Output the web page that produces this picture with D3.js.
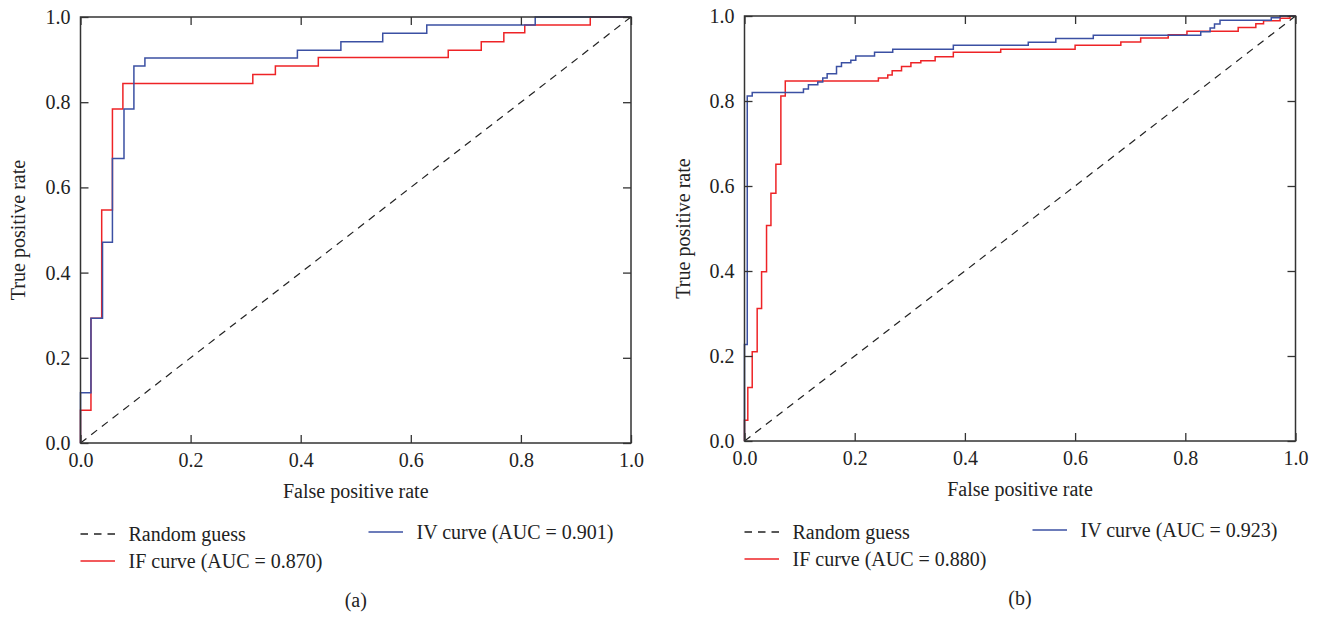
<!DOCTYPE html>
<html>
<head>
<meta charset="utf-8">
<script src="https://cdn.jsdelivr.net/npm/d3@7"></script>
<style>
  body { margin: 0; background: #fff; }
  text { font-family: "Liberation Serif", "Times New Roman", serif; fill: #222; }
</style>
</head>
<body>
<script>
// step points (fpr, tpr)
var ifFprA = [0, 0, 0.019, 0.0385, 0.058, 0.077, 0.313, 0.354, 0.432, 0.668, 0.728, 0.769, 0.807, 0.926, 1];
var ifTprA = [0, 0.077, 0.293, 0.547, 0.784, 0.844, 0.865, 0.885, 0.905, 0.922, 0.942, 0.963, 0.981, 1, 1];
var ivFprA = [0, 0, 0.019, 0.04, 0.058, 0.079, 0.097, 0.117, 0.394, 0.473, 0.549, 0.629, 0.826, 1];
var ivTprA = [0, 0.118, 0.293, 0.471, 0.668, 0.784, 0.885, 0.904, 0.922, 0.942, 0.962, 0.981, 1, 1];

var ifFprB = [0, 0, 0.006, 0.014, 0.023, 0.031, 0.040, 0.048, 0.057, 0.066, 0.074, 0.243, 0.260, 0.268, 0.285,
  0.302, 0.320, 0.346, 0.379, 0.465, 0.600, 0.683, 0.719, 0.769, 0.803, 0.896, 0.928, 0.942, 0.972, 0.99, 1];
var ifTprB = [0, 0.049, 0.126, 0.210, 0.312, 0.398, 0.507, 0.583, 0.651, 0.812, 0.847, 0.854, 0.861, 0.871, 0.881,
  0.890, 0.895, 0.904, 0.915, 0.922, 0.931, 0.939, 0.948, 0.956, 0.964, 0.973, 0.982, 0.989, 0.995, 1, 1];
var ivFprB = [0, 0, 0.005, 0.014, 0.107, 0.116, 0.133, 0.142, 0.150, 0.167, 0.176, 0.193, 0.202, 0.236, 0.269,
  0.379, 0.515, 0.565, 0.633, 0.828, 0.845, 0.853, 0.863, 0.956, 0.972, 1];
var ivTprB = [0, 0.227, 0.812, 0.820, 0.828, 0.838, 0.845, 0.854, 0.864, 0.881, 0.890, 0.896, 0.906, 0.915, 0.922,
  0.931, 0.938, 0.947, 0.955, 0.963, 0.972, 0.981, 0.990, 0.996, 1, 1];

var ticks = [0, 0.2, 0.4, 0.6, 0.8, 1.0];
var xTitle = "False positive rate";
var yTitle = "True positive rate";
var randomLabel = "Random guess";
var ifLabels = ["IF curve (AUC = 0.870)", "IF curve (AUC = 0.880)"];
var ivLabels = ["IV curve (AUC = 0.901)", "IV curve (AUC = 0.923)"];
var panelLabels = ["(a)", "(b)"];

var red = "#ee2326", blue = "#3b50a3", frameColor = "#333";

var svg = d3.select("body").append("svg")
  .attr("width", 1317)
  .attr("height", 618);

var panels = [
  {left: 80.5, top: 17, width: 550.5, height: 426, ifF: ifFprA, ifT: ifTprA, ivF: ivFprA, ivT: ivTprA, yTitleX: 18},
  {left: 744.5, top: 16, width: 551, height: 425, ifF: ifFprB, ifT: ifTprB, ivF: ivFprB, ivT: ivTprB, yTitleX: 683}
];

function zip(xs, ys) {
  return xs.map(function(d, i) { return [d, ys[i]]; });
}

panels.forEach(function(p, k) {
  var g = svg.append("g")
    .attr("transform", "translate(" + p.left + "," + p.top + ")");

  var x = d3.scaleLinear().domain([0, 1]).range([0, p.width]);
  var y = d3.scaleLinear().domain([0, 1]).range([p.height, 0]);

  var line = d3.line()
    .x(function(d) { return x(d[0]); })
    .y(function(d) { return y(d[1]); })
    .curve(d3.curveStepAfter);

  // random guess diagonal
  g.append("path")
    .datum([[0, 0], [1, 1]])
    .attr("d", d3.line().x(function(d) { return x(d[0]); }).y(function(d) { return y(d[1]); }))
    .attr("fill", "none")
    .attr("stroke", "#222")
    .attr("stroke-width", 1.2)
    .attr("stroke-dasharray", "7.5,6");

  g.append("path")
    .datum(zip(p.ifF, p.ifT))
    .attr("d", line)
    .attr("fill", "none")
    .attr("stroke", red)
    .attr("stroke-width", 1.5);

  g.append("path")
    .datum(zip(p.ivF, p.ivT))
    .attr("d", line)
    .attr("fill", "none")
    .attr("stroke", blue)
    .attr("stroke-width", 1.5);

  var fmt = d3.format(".1f");

  var xb = g.append("g")
    .attr("transform", "translate(0," + p.height + ")")
    .call(d3.axisBottom(x).tickValues(ticks).tickFormat(fmt).tickSizeInner(-8).tickSizeOuter(0).tickPadding(10));
  var yl = g.append("g")
    .call(d3.axisLeft(y).tickValues(ticks).tickFormat(fmt).tickSizeInner(-8).tickSizeOuter(0).tickPadding(10));
  var xt = g.append("g")
    .call(d3.axisTop(x).tickValues(ticks).tickFormat("").tickSizeInner(-8).tickSizeOuter(0));
  var yr = g.append("g")
    .attr("transform", "translate(" + p.width + ",0)")
    .call(d3.axisRight(y).tickValues(ticks).tickFormat("").tickSizeInner(-8).tickSizeOuter(0));

  [xb, yl, xt, yr].forEach(function(a) {
    a.select(".domain").remove();
    a.selectAll(".tick line").attr("stroke", frameColor).attr("stroke-width", 1.3);
    a.selectAll(".tick text").attr("font-size", 20).attr("font-family", "Liberation Serif").attr("fill", "#222");
  });

  g.append("rect")
    .attr("width", p.width)
    .attr("height", p.height)
    .attr("fill", "none")
    .attr("stroke", frameColor)
    .attr("stroke-width", 1.5);

  // axis titles
  g.append("text")
    .attr("x", p.width / 2)
    .attr("y", p.height + 55)
    .attr("text-anchor", "middle")
    .attr("font-size", 20)
    .text(xTitle);

  svg.append("text")
    .attr("transform", "translate(" + (p.yTitleX + 7) + "," + (p.top + p.height / 2) + ") rotate(-90)")
    .attr("text-anchor", "middle")
    .attr("font-size", 20)
    .text(yTitle);

  // legend
  var lg = g.append("g").attr("transform", "translate(0," + p.height + ")");
  var items = [
    {x: 0, y: 91, label: randomLabel, color: "#222", dash: "7.5,6"},
    {x: 0, y: 118, label: ifLabels[k], color: red, dash: null},
    {x: 288, y: 89, label: ivLabels[k], color: blue, dash: null}
  ];
  items.forEach(function(it) {
    lg.append("line")
      .attr("x1", it.x).attr("x2", it.x + 34.5)
      .attr("y1", it.y).attr("y2", it.y)
      .attr("stroke", it.color)
      .attr("stroke-width", 1.3)
      .attr("stroke-dasharray", it.dash);
    lg.append("text")
      .attr("x", it.x + 48)
      .attr("y", it.y + 7)
      .attr("font-size", 20)
      .text(it.label);
  });

  g.append("text")
    .attr("x", p.width / 2)
    .attr("y", p.height + 164)
    .attr("text-anchor", "middle")
    .attr("font-size", 20)
    .text(panelLabels[k]);
});
</script>
</body>
</html>
